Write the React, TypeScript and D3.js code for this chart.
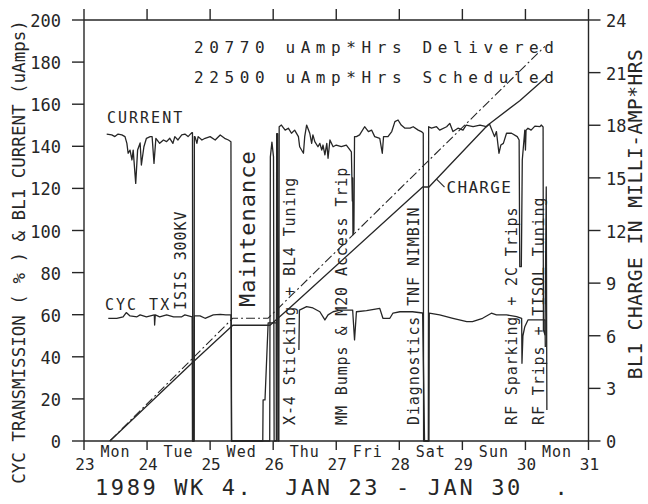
import React from "react";
import * as d3 from "d3";

// Beam line 1 log, week 4 of 1989: time in days of January.
const dayTicks = [23, 24, 25, 26, 27, 28, 29, 30, 31];
const dayNames = ["Mon", "Tue", "Wed", "Thu", "Fri", "Sat", "Sun", "Mon"];
const leftTicks = [0, 20, 40, 60, 80, 100, 120, 140, 160, 180, 200];
const rightTicks = [0, 3, 6, 9, 12, 15, 18, 21, 24];

// BL1 current (uA) against day
const currentSeries: [number, number | null][] = [
  [23.36, 145.8], [23.44, 145.4], [23.49, 144.6], [23.54, 145.8], [23.6, 145.4], [23.65, 144.6],
  [23.68, 141.4], [23.7, 136.7], [23.73, 138.2], [23.76, 133.5], [23.78, 138.2], [23.82, 122.4],
  [23.85, 138.2], [23.89, 141.6], [23.91, 131.1], [23.95, 139.8], [23.99, 143.8], [24.05, 144.6],
  [24.08, 144.6], [24.11, 131.9], [24.14, 143.8], [24.2, 141.4], [24.26, 143.0], [24.31, 142.2],
  [24.36, 143.8], [24.41, 141.4], [24.44, 144.6], [24.49, 143.0], [24.55, 145.4], [24.6, 145.8],
  [24.65, 144.6], [24.71, 146.5], [24.72, 146.5], [24.725, 0], [24.745, 0], [24.75, 144.6],
  [24.76, 144.6], [24.79, 141.4], [24.81, 144.6], [24.87, 143.0], [24.92, 143.8], [25.0, 144.6],
  [25.08, 143.0], [25.16, 145.4], [25.23, 143.8], [25.29, 143.0], [25.33, 142.2], [25.34, 0],
  [25.945, 0], [25.955, 135], [25.98, 142], [26.005, 135], [26.015, 0],
  [26.05, 0], [26.055, 146], [26.07, 146], [26.075, 0], [26.09, 0], [26.095, 149.3],
  [26.13, 150.1], [26.19, 147.7], [26.24, 148.6], [26.29, 146.2], [26.34, 147.7], [26.4, 144.6],
  [26.42, 139.8], [26.48, 136.7], [26.5, 144.6], [26.53, 150.1], [26.58, 146.2], [26.61, 141.4],
  [26.63, 145.4], [26.66, 142.2], [26.71, 139.8], [26.74, 141.4], [26.77, 138.2], [26.79, 140.6],
  [26.82, 135.9], [26.85, 141.4], [26.87, 134.3], [26.9, 143.0], [26.95, 139.8], [27.0, 140.6],
  [27.08, 139.8], [27.16, 140.6], [27.22, 138.2], [27.24, 137.4], [27.255, 114], [27.26, 125],
  [27.265, 98], [27.28, 100], [27.29, 144.6], [27.32, 144.6], [27.37, 145.4], [27.45, 149.3],
  [27.51, 147.0], [27.56, 147.7], [27.61, 144.6], [27.69, 143.8], [27.73, 136.7], [27.75, 144.6],
  [27.82, 144.6], [27.88, 147.0], [27.93, 151.7], [27.98, 152.5], [28.03, 150.1], [28.09, 148.6],
  [28.17, 148.6], [28.22, 149.3], [28.3, 147.7], [28.35, 147.0], [28.38, 146.2], [28.385, 0],
  [28.46, 0], [28.465, 149.3], [28.51, 148.6], [28.59, 149.3], [28.64, 147.7], [28.75, 149.3],
  [28.8, 150.9], [28.85, 147.0], [28.93, 148.6], [29.01, 147.7], [29.06, 150.1], [29.17, 149.3],
  [29.28, 150.1], [29.38, 149.3], [29.43, 150.6], [29.51, 144.6], [29.54, 147.0], [29.58, 136.7],
  [29.61, 140.6], [29.65, 141.4], [29.7, 146.2], [29.78, 146.2], [29.87, 144.6], [29.9, 143.0],
  [29.91, 82.8], [29.935, 82.8], [29.95, 133.5], [29.99, 147.7], [30.0, 138.2], [30.01, 147.7],
  [30.04, 148.6], [30.09, 147.7], [30.15, 149.6], [30.23, 149.3], [30.25, 150.1], [30.28, 149.2],
  [30.285, 52.7], [30.31, 50.4], [30.33, 120.7], [30.34, 14.7],
];

// Cyclotron transmission (%) against day; null marks no reading
const cycTxSeries: [number, number | null][] = [
  [23.385, 58.3], [23.52, 58.3], [23.62, 59.0], [23.67, 61.0], [23.73, 59.4], [23.84, 59.0],
  [23.89, 59.9], [23.99, 59.0], [24.115, 59.9], [24.12, 55.1], [24.13, 59.9], [24.2, 59.0],
  [24.31, 59.9], [24.42, 59.0], [24.55, 59.0], [24.6, 59.9], [24.715, 59.0], [24.72, 0],
  [24.745, 0], [24.75, 59.4], [24.84, 59.4], [24.92, 58.3], [25.05, 59.9], [25.16, 60.2],
  [25.25, 59.9], [25.33, 59.9], [25.34, 0], [25.835, 0], [25.84, 19.5], [25.87, 19.5],
  [25.92, 56.1], [26.05, 56.1], [26.055, 0], [26.06, null],
  [26.408, 43.2], [26.416, 62.2], [26.53, 63.8], [26.63, 63.2], [26.74, 61.4], [26.82, 57.5],
  [26.87, 59.9], [26.95, 61.4], [27.06, 62.2], [27.26, 62.2], [27.29, 48.0], [27.32, 61.4],
  [27.48, 61.9], [27.69, 63.0], [27.74, 58.3], [27.85, 58.3], [27.9, 60.8], [28.01, 61.4],
  [28.21, 61.4], [28.37, 60.8], [28.4, 0], [28.47, 0], [28.475, 60.7], [28.64, 59.9],
  [28.85, 58.3], [29.07, 56.7], [29.16, 56.7], [29.32, 58.3], [29.46, 60.7], [29.54, 59.9],
  [29.7, 59.9], [29.86, 59.1], [29.94, 58.3], [29.945, 36.9], [29.96, 50.0], [29.99, 54.3],
  [30.04, 57.5], [30.15, 57.5], [30.23, 57.5], [30.31, 57.5], [30.315, 44.7],
];

// Integrated charge (mA*h) delivered and scheduled
const chargeDelivered: [number, number][] = [
  [23.41, 0], [24.73, 4.5], [25.36, 6.6], [25.95, 6.6], [26.26, 7.58], [28.37, 14.48],
  [28.47, 14.48], [29.4, 18.0], [29.91, 19.4], [30.34, 20.77],
];
const chargeScheduled: [number, number][] = [
  [23.41, 0], [25.36, 7.0], [25.92, 7.0], [30.31, 22.5],
];

// Logged events, each placed at the day it is written against
const events = [
  { text: "ISIS 300KV", day: 24.62, from: 0 },
  { text: "X-4 Sticking + BL4 Tuning", day: 26.35, from: 1 },
  { text: "MM Bumps & M20 Access Trip", day: 27.17, from: 1 },
  { text: "Diagnostics TNF NIMBIN", day: 28.31, from: 1 },
  { text: "RF Sparking + 2C Trips", day: 29.86, from: 1 },
  { text: "RF Trips + TISOL Tuning", day: 30.29, from: 1 },
];
const maintenance = { text: "Maintenance", day: 25.71 };

const delivered = "20770 uAmp*Hrs Delivered";
const scheduled = "22500 uAmp*Hrs Scheduled";
const title = "1989 WK 4.  JAN 23 - JAN 30  .";
const leftTitle = "CYC TRANSMISSION ( % ) & BL1 CURRENT (uAmps)";
const rightTitle = "BL1 CHARGE IN MILLI-AMP*HRS";

const W = 648;
const H = 504;
const INK = "#262626";
const FONT = "'DejaVu Sans Mono', monospace";

export default function App() {
  const x = d3.scaleLinear().domain([23, 31]).range([84, 588.5]);
  const yL = d3.scaleLinear().domain([0, 200]).range([441, 20]);
  const yR = d3.scaleLinear().domain([0, 24]).range([441, 20]);
  const [x0, x1] = x.range();
  const [yb, yt] = yL.range();

  const pct = d3
    .line<[number, number | null]>()
    .defined((d) => d[1] !== null)
    .x((d) => x(d[0]))
    .y((d) => yL(d[1] as number));
  const chg = d3
    .line<[number, number]>()
    .x((d) => x(d[0]))
    .y((d) => yR(d[1]));

  // point on the delivered curve where the CHARGE leader starts
  const leadDay = 28.59;
  const leadVal = d3.scaleLinear().domain([28.47, 29.4]).range([14.48, 18.0])(leadDay);
  const lx = x(leadDay);
  const ly = yR(leadVal);

  const txt = { fontFamily: FONT, fill: INK } as const;

  return (
    <svg
      width={W}
      height={H}
      viewBox={`0 0 ${W} ${H}`}
      style={{ position: "absolute", left: 0, top: 0, background: "#fff" }}
    >
      <rect width={W} height={H} fill="#fff" />
      {/* frame */}
      <g stroke={INK} strokeWidth={1.4} fill="none">
        <line x1={x0} y1={yt} x2={x1} y2={yt} />
        <line x1={x0} y1={yb} x2={x1} y2={yb} />
        <line x1={x0} y1={yt} x2={x0} y2={yb} />
        <line x1={x1} y1={yt} x2={x1} y2={yb} />
        {dayTicks.map((d) => (
          <g key={"dt" + d}>
            <line x1={x(d)} x2={x(d)} y1={yt - 11} y2={yt} />
            <line x1={x(d)} x2={x(d)} y1={yb} y2={yb + 9} />
          </g>
        ))}
        {leftTicks.map((v) => (
          <line key={"lt" + v} x1={x0 - 12} x2={x0} y1={yL(v)} y2={yL(v)} />
        ))}
        {rightTicks.map((v) => (
          <line key={"rt" + v} x1={x1} x2={x1 + 12} y1={yR(v)} y2={yR(v)} />
        ))}
      </g>

      {/* tick labels */}
      {leftTicks.map((v) => (
        <text key={"ll" + v} x={61} y={yL(v) + 7} textAnchor="end" fontSize={17} {...txt}>
          {v}
        </text>
      ))}
      {rightTicks.map((v) => (
        <text key={"rl" + v} x={606} y={yR(v) + 7} fontSize={17} {...txt}>
          {v}
        </text>
      ))}
      {dayTicks.map((d) => (
        <text key={"dl" + d} x={x(d) + 1} y={470} textAnchor="middle" fontSize={16} {...txt}>
          {d}
        </text>
      ))}
      {dayNames.map((n, i) => (
        <text
          key={"dn" + i}
          x={x(dayTicks[i] + 0.5)}
          y={457}
          textAnchor="middle"
          fontSize={15}
          letterSpacing={1}
          {...txt}
        >
          {n}
        </text>
      ))}

      {/* axis titles */}
      <text
        transform={`translate(25,252) rotate(-90)`}
        textAnchor="middle"
        fontSize={17.5}
        {...txt}
        style={{ whiteSpace: "pre" }}
      >
        {leftTitle}
      </text>
      <text
        transform={`translate(642,214) rotate(-90)`}
        textAnchor="middle"
        fontSize={19.5}
        letterSpacing={0.5}
        {...txt}
      >
        {rightTitle}
      </text>
      <text x={95} y={495} fontSize={22} letterSpacing={2.6} {...txt} style={{ whiteSpace: "pre" }}>
        {title}
      </text>

      {/* totals */}
      <text x={194} y={53} fontSize={16} letterSpacing={5.6} {...txt} style={{ whiteSpace: "pre" }}>
        {delivered}
      </text>
      <text x={194} y={83} fontSize={16} letterSpacing={5.6} {...txt} style={{ whiteSpace: "pre" }}>
        {scheduled}
      </text>

      {/* traces */}
      <g fill="none" stroke={INK} strokeLinejoin="round">
        <path d={pct(currentSeries) ?? ""} strokeWidth={1.3} />
        <path d={pct(cycTxSeries) ?? ""} strokeWidth={1.3} />
        <path d={chg(chargeDelivered) ?? ""} strokeWidth={1.3} />
        <path d={chg(chargeScheduled) ?? ""} strokeWidth={1.1} strokeDasharray="9,3,2,3" />
        <line x1={lx} y1={ly} x2={lx + 8} y2={ly + 8} strokeWidth={1.1} />
      </g>

      {/* trace labels */}
      <text x={107} y={123} fontSize={15} letterSpacing={2} {...txt}>
        CURRENT
      </text>
      <text x={105} y={310} fontSize={15} letterSpacing={2} {...txt} style={{ whiteSpace: "pre" }}>
        CYC TX
      </text>
      <text x={lx + 10} y={ly + 14} fontSize={16} letterSpacing={1.3} {...txt}>
        CHARGE
      </text>

      {/* event notes */}
      {events.map((e) => (
        <text
          key={e.text}
          transform={`translate(${x(e.day)},${e.from ? 425 : 310}) rotate(-90)`}
          fontSize={15}
          letterSpacing={0.9}
          {...txt}
        >
          {e.text}
        </text>
      ))}
      <text
        transform={`translate(${x(maintenance.day)},307) rotate(-90)`}
        fontSize={22}
        letterSpacing={1}
        {...txt}
      >
        {maintenance.text}
      </text>
    </svg>
  );
}
